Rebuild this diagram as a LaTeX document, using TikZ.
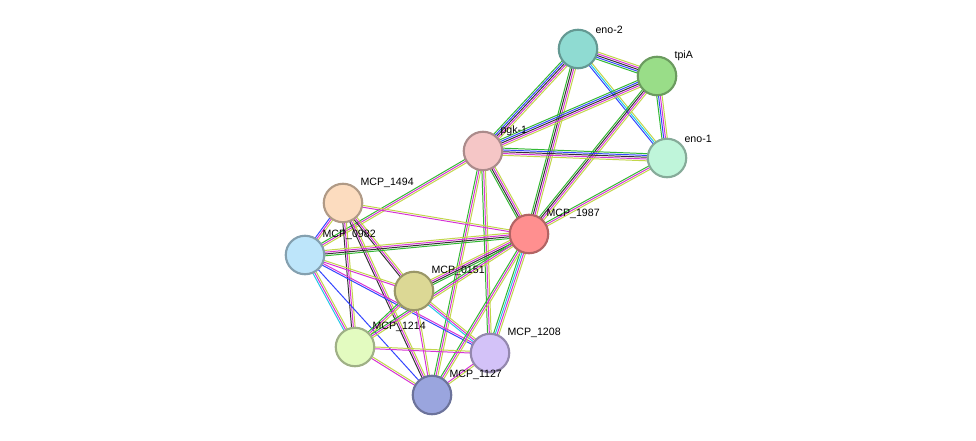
\documentclass[tikz,border=0pt]{standalone}
\usepackage{fontspec}
\setmainfont{Liberation Sans}
\usetikzlibrary{calc}
\definecolor{eg}{HTML}{33B833}
\definecolor{eb}{HTML}{3344FF}
\definecolor{ek}{HTML}{333333}
\definecolor{em}{HTML}{D633D6}
\definecolor{ec}{HTML}{22C8E6}
\definecolor{ey}{HTML}{C2D64A}
\newcommand\edgeS[4]{\foreach \c [count=\i] in {#4}{\pgfmathsetmacro\o{(\i-(#3+1)/2)*1.35}\draw[\c,line width=0.75pt] ($(#1.center)!\o pt!90:(#2.center)$) -- ($(#2.center)!\o pt!-90:(#1.center)$);}}
\tikzset{prot/.style={circle,inner sep=0pt,line width=1.6pt,fill=#1,draw=#1!70!black,minimum size=1.02cm},
 lab/.style={font=\fontsize{8pt}{9pt}\selectfont,anchor=south west,inner sep=1pt}}
\begin{document}
\begin{tikzpicture}[x=0.0265cm,y=-0.0265cm]
\useasboundingbox (0,0) rectangle (976,441);
\definecolor{c1}{HTML}{8FDBD2}\definecolor{c2}{HTML}{99DD88}\definecolor{c3}{HTML}{BFF5DA}
\definecolor{c4}{HTML}{F5C6C6}\definecolor{c5}{HTML}{FCDCBF}\definecolor{c6}{HTML}{FF8F8F}
\definecolor{c7}{HTML}{BDE5FA}\definecolor{c8}{HTML}{DCD895}\definecolor{c9}{HTML}{E3FBC0}
\definecolor{c10}{HTML}{D3C2F8}\definecolor{c11}{HTML}{9AA5DE}
\coordinate (eno2) at (578,49); \coordinate (tpiA) at (657,76); \coordinate (eno1) at (667,158);
\coordinate (pgk) at (483,151); \coordinate (m1494) at (343,203); \coordinate (m1987) at (529,234);
\coordinate (m0982) at (305,255); \coordinate (m0151) at (414,291); \coordinate (m1214) at (355,347);
\coordinate (m1208) at (490,353); \coordinate (m1127) at (432,395);
\edgeS{eno2}{tpiA}{5}{eg,eb,ek,em,ey}
\edgeS{eno2}{eno1}{3}{eb,ec,ey}
\edgeS{eno2}{pgk}{5}{eg,eb,ek,em,ey}
\edgeS{eno2}{m1987}{4}{eg,ek,em,ey}
\edgeS{tpiA}{eno1}{4}{eg,eb,em,ey}
\edgeS{tpiA}{pgk}{5}{eg,eb,ek,em,ey}
\edgeS{tpiA}{m1987}{4}{eg,ek,em,ey}
\edgeS{eno1}{pgk}{5}{eg,eb,ek,em,ey}
\edgeS{eno1}{m1987}{3}{eg,em,ey}
\edgeS{pgk}{m1987}{4}{eg,ek,em,ey}
\edgeS{pgk}{m0982}{3}{eg,em,ey}
\edgeS{pgk}{m1208}{3}{eg,em,ey}
\edgeS{pgk}{m1127}{3}{eg,em,ey}
\edgeS{m1494}{m1987}{2}{em,ey}
\edgeS{m1494}{m0982}{3}{eb,em,ey}
\edgeS{m1494}{m0151}{3}{ek,em,ey}
\edgeS{m1494}{m1214}{3}{ek,em,ey}
\edgeS{m1494}{m1127}{3}{ek,em,ey}
\edgeS{m0982}{m1987}{4}{eg,ek,em,ey}
\edgeS{m0982}{m0151}{2}{em,ey}
\edgeS{m0982}{m1214}{3}{ec,em,ey}
\edgeS{m0982}{m1208}{2}{eb,em}
\edgeS{m0982}{m1127}{1}{eb}
\edgeS{m0151}{m1987}{4}{eg,ek,em,ey}
\edgeS{m0151}{m1214}{3}{eg,em,ey}
\edgeS{m0151}{m1208}{3}{ec,em,ey}
\edgeS{m0151}{m1127}{2}{em,ey}
\edgeS{m1987}{m1214}{3}{eg,em,ey}
\edgeS{m1987}{m1208}{4}{eg,ec,em,ey}
\edgeS{m1987}{m1127}{3}{eg,em,ey}
\edgeS{m1214}{m1208}{2}{em,ey}
\edgeS{m1214}{m1127}{2}{em,ey}
\edgeS{m1208}{m1127}{2}{em,ey}
\foreach \n/\c/\t in {eno2/c1/eno-2,tpiA/c2/tpiA,eno1/c3/eno-1,pgk/c4/pgk-1,m1494/c5/MCP\_1494,m1987/c6/MCP\_1987,m0982/c7/MCP\_0982,m0151/c8/MCP\_0151,m1214/c9/MCP\_1214,m1208/c10/MCP\_1208,m1127/c11/MCP\_1127}{
 \node[prot=\c] (N\n) at (\n) {};
 \node[lab] (L\n) at ($(\n)+(16,-14)$) {\t};}
\end{tikzpicture}
\end{document}
